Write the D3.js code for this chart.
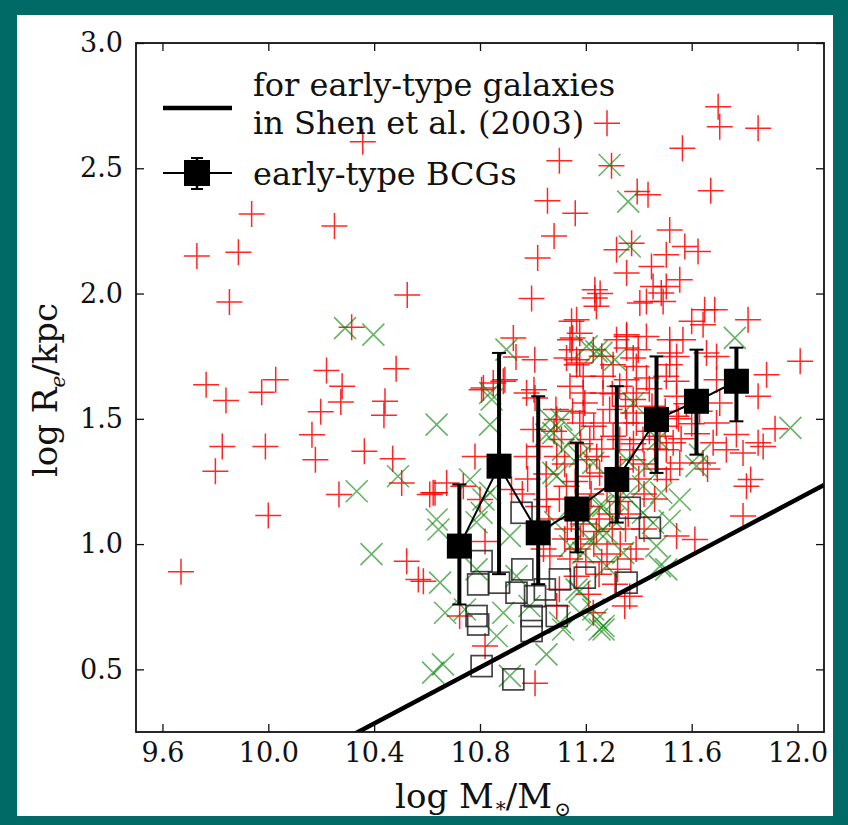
<!DOCTYPE html>
<html>
<head>
<meta charset="utf-8">
<script src="https://cdn.jsdelivr.net/npm/d3@7"></script>
<style>
  body { margin: 0; background: #fff; }
  text { font-family: "DejaVu Serif", serif; fill: #111; }
</style>
</head>
<body>
<div id="chart"></div>
<script>
// ---- data ----
var xTicks = [9.6, 10.0, 10.4, 10.8, 11.2, 11.6, 12.0];
var yTicks = [0.5, 1.0, 1.5, 2.0, 2.5, 3.0];

// red pluses
var redPts = [
  [9.67,0.89],[9.73,2.15],[9.765,1.636],[9.80,1.291],[9.826,1.39],[9.84,1.573],[9.853,1.966],[9.887,2.165],
  [9.937,2.317],[9.975,1.606],[9.989,1.39],[10.0,1.114],[10.028,1.656],[10.165,1.436],[10.178,1.337],[10.198,1.528],
  [10.22,1.693],[10.25,2.27],[10.267,1.198],[10.274,1.567],[10.279,1.63],[10.315,1.865],[10.357,2.606],[10.363,1.371],
  [10.437,1.514],[10.441,1.57],[10.47,1.341],[10.483,1.70],[10.504,1.244],[10.525,1.994],[10.61,1.198],
  [10.523,0.932],[10.567,0.859],[10.586,0.852],[10.674,1.244],[10.63,1.205],[10.781,1.35],[10.737,1.231],
  [10.819,1.01],[10.819,0.593],[10.723,0.713],[10.8,1.178],[11.008,0.445],[10.919,1.218],[11.051,1.178],
  [11.064,0.952],[11.09,0.753],[11.228,0.726],[11.165,0.872],
  [10.995,1.98],[11.018,2.142],[11.055,2.37],[11.08,2.23],[11.10,2.53],[11.16,2.32],[11.146,1.889],[10.926,1.823],
  [10.936,1.747],[11.007,1.736],[11.15,1.823],[11.146,1.776],[11.127,1.743],[11.165,1.716],[10.806,1.616],
  [10.85,1.643],[10.894,1.656],[10.976,1.603],[11.004,1.616],[11.008,1.583],[11.14,1.63],[11.087,1.537],
  [11.001,1.457],[11.026,1.39],[11.108,1.417],[10.888,1.65],[10.813,1.623],[11.196,1.563],[11.328,1.63],
  [11.379,1.577],[11.09,1.497],[11.177,1.483],[11.303,1.43],[11.354,1.483],[11.416,1.417],[10.976,1.35],
  [11.09,1.35],[11.203,1.337],[10.623,1.205],[11.127,1.231],[11.252,1.284],[11.379,1.337],[11.24,1.949],
  [11.404,1.962],[11.14,1.816],[11.165,1.736],[11.316,1.816],[11.354,1.829],[11.379,1.743],
  [11.28,2.68],[11.70,2.746],[11.706,2.666],[11.851,2.66],[11.565,2.58],[11.297,2.51],[11.394,2.407],
  [11.435,2.394],[11.672,2.41],[11.517,2.254],[11.373,2.201],[11.316,2.175],[11.574,2.188],[11.624,2.168],
  [11.504,2.155],[11.354,2.082],[11.448,2.108],[11.555,2.055],[11.504,2.028],[11.485,2.002],[11.254,2.0],
  [11.649,1.935],[11.687,1.935],[11.813,1.895],[11.234,2.015],[11.234,1.982],[11.454,2.028],[11.429,1.968],
  [11.492,1.968],[11.6,1.889],[11.643,1.875],[11.165,1.895],[11.177,1.842],[11.354,1.836],[11.429,1.829],
  [11.517,1.816],[11.567,1.816],[11.228,1.776],[11.354,1.783],[11.398,1.776],[11.517,1.763],[11.543,1.749],
  [11.656,1.763],[11.694,1.749],[11.177,1.723],[11.303,1.716],[11.391,1.709],[11.517,1.716],[11.19,1.67],
  [11.265,1.67],[11.354,1.656],[11.429,1.663],[11.504,1.67],[11.543,1.65],[11.694,1.656],[11.883,1.676],
  [11.19,1.603],[11.265,1.603],[11.391,1.603],[11.543,1.59],[11.706,1.563],[11.851,1.59],[11.19,1.523],
  [11.29,1.537],[11.379,1.523],[11.543,1.51],[11.694,1.483],[11.851,1.404],[11.265,1.483],[11.391,1.483],
  [11.769,1.437],[11.794,1.364],[11.215,1.417],[11.328,1.417],[11.53,1.404],[11.681,1.404],[11.241,1.35],
  [11.366,1.377],[11.555,1.324],[11.643,1.324],[11.215,1.271],[11.823,1.258],[11.504,1.258],
  [12.01,1.73],[11.915,1.46],[11.807,1.231],[11.794,1.112],[11.612,1.018],[11.543,1.032],[11.366,0.792],
  [11.347,0.753],[11.504,1.377],[11.731,1.377],[11.87,1.39],
  [11.10,1.18],[11.145,1.10],[11.215,1.15],[11.25,1.10],[11.30,1.06],[11.18,1.02],[11.23,1.0],[11.28,0.96],
  [11.33,1.0],[11.37,0.94],[11.14,0.94],[11.2,0.93],[11.25,0.88],[11.31,0.84],[11.1,0.82],[11.21,0.80],
  [11.42,1.06],[11.46,1.18],[11.4,1.26],[11.47,1.30],[11.52,1.30],[11.46,1.38],[11.56,1.42],[11.6,1.48],
  [11.63,1.53],[11.5,1.53],[11.66,1.30],[11.05,1.28],[11.12,1.32],[11.16,1.25],[11.22,1.2],[11.28,1.22],
  [11.33,1.17],[11.36,1.12],[11.06,1.10],[11.02,1.15],[11.26,1.38],[11.42,1.32],[11.44,1.45],[11.12,1.02],
  [11.04,0.98],[10.96,1.20],[10.98,1.26],[11.08,1.45],[11.35,1.55],[11.45,1.55],[11.58,1.56],[11.62,1.44],
  [11.48,1.43],[11.13,1.06],[11.19,1.08],[11.24,1.05],[11.29,1.12],[11.35,1.06],[11.17,0.98],[11.26,0.93],
  [11.32,0.90],[11.39,0.98],[11.42,1.20],[11.38,1.40],[11.33,1.30],[11.18,1.40],[11.23,1.47],[11.15,1.53],
  [11.50,1.47],[11.55,1.50],[11.44,1.62],[11.30,1.60],[11.26,1.75]
];

// green crosses
var greenPts = [
  [10.29,1.862],[10.397,1.836],[10.334,1.211],[10.49,1.271],[10.39,0.96],[10.636,1.477],[10.90,1.776],
  [10.844,1.577],[10.838,1.477],[10.838,1.603],[11.065,1.497],[11.108,1.497],[11.051,1.437],[11.114,1.377],
  [10.762,1.258],[11.077,1.284],[11.29,2.513],[11.36,2.367],[11.366,2.188],[11.763,1.823],[11.24,1.769],
  [11.259,1.763],[11.31,1.736],[11.203,1.789],[11.379,1.563],[11.159,1.43],[11.473,1.417],[11.631,1.357],
  [11.228,1.324],[11.354,1.337],[11.973,1.464],
  [10.643,1.058],[10.649,0.846],[10.668,0.726],[10.623,0.487],[10.66,0.52],[10.787,1.087],[10.806,1.125],
  [10.787,0.899],[10.913,1.032],[10.888,0.726],[10.863,0.633],[10.938,0.872],[10.913,0.474],[11.051,0.56],
  [11.114,0.659],[11.252,0.659],[11.084,1.087],[11.141,0.992],[11.19,0.965],[11.252,1.045],[11.303,1.098],
  [11.165,1.138],[10.987,0.753],[10.743,0.739],[10.838,1.205],[11.267,0.673],[11.228,0.739],[11.102,0.686],
  [11.177,0.812],[11.555,1.178],[11.485,1.205],[11.454,1.085],[11.517,1.092],[11.467,0.992],[11.48,0.912],
  [11.504,0.899],[11.278,0.912],[11.341,0.965],[11.278,1.045],[11.215,1.018],[11.19,1.112],[11.265,1.152],
  [11.316,1.178],[11.416,1.125],[11.241,0.699],[11.267,0.659],[11.177,0.726],[11.165,0.819],[11.618,1.311],
  [11.429,1.311],[11.077,1.443],[11.177,1.35],[11.09,1.271],[10.813,1.178],[10.636,1.098],[11.252,1.152],
  [11.354,1.191],[11.416,1.231],[11.203,1.098]
];

// open squares
var openSq = [
  [10.806,0.932],[10.793,0.839],[10.872,0.846],[10.957,1.125],[10.96,0.899],[10.938,0.806],[11.008,0.792],
  [11.045,0.819],[11.102,0.859],[11.196,0.866],[11.354,0.846],[11.366,1.145],[11.442,1.065],[10.787,0.713],
  [10.793,0.679],[10.995,0.713],[10.995,0.653],[11.09,0.713],[10.806,0.513],[10.926,0.46]
];

// early-type BCG bins
var bcgX  = [10.722, 10.872, 11.02, 11.166, 11.317, 11.467, 11.618, 11.769];
var bcgY  = [0.992, 1.311, 1.045, 1.14, 1.258, 1.497, 1.57, 1.65];
var bcgHi = [1.238, 1.763, 1.59, 1.405, 1.63, 1.749, 1.776, 1.784];
var bcgLo = [0.759, 0.88, 0.84, 0.967, 1.086, 1.284, 1.357, 1.49];

// Shen et al. (2003) early-type relation: log R = a log M + b
var shenA = 0.56;
var shenB = -5.54;

// ---- layout ----
var svgWidth = 848;
var svgHeight = 825;
var margin = { top: 43, right: 24, bottom: 93, left: 136 };
var width = svgWidth - margin.left - margin.right;
var height = svgHeight - margin.top - margin.bottom;

var svg = d3.select("#chart")
  .append("svg")
  .attr("width", svgWidth)
  .attr("height", svgHeight);

// teal frame
svg.append("rect").attr("width", svgWidth).attr("height", svgHeight).attr("fill", "#006a66");
svg.append("rect").attr("x", 17).attr("y", 15).attr("width", 816).attr("height", 801).attr("fill", "#fff");

var chartGroup = svg.append("g")
  .attr("transform", `translate(${margin.left}, ${margin.top})`);

var x = d3.scaleLinear().domain([9.5, 12.1]).range([0, width]);
var y = d3.scaleLinear().domain([0.25, 3.0]).range([height, 0]);

chartGroup.append("clipPath").attr("id", "clip")
  .append("rect").attr("width", width).attr("height", height);

var plot = chartGroup.append("g").attr("clip-path", "url(#clip)");

// red pluses
plot.selectAll(".plus")
  .data(redPts)
  .enter()
  .append("path")
  .attr("class", "plus")
  .attr("transform", d => `translate(${x(d[0])},${y(d[1])})`)
  .attr("d", "M-13,0H13M0,-13V13")
  .attr("stroke", "#ff0000")
  .attr("stroke-opacity", 0.85)
  .attr("stroke-width", 1.5)
  .attr("fill", "none");

// green crosses
plot.selectAll(".cross")
  .data(greenPts)
  .enter()
  .append("path")
  .attr("class", "cross")
  .attr("transform", d => `translate(${x(d[0])},${y(d[1])})`)
  .attr("d", "M-11,-11L11,11M-11,11L11,-11")
  .attr("stroke", "#008000")
  .attr("stroke-opacity", 0.6)
  .attr("stroke-width", 1.6)
  .attr("fill", "none");

// open squares
plot.selectAll(".osq")
  .data(openSq)
  .enter()
  .append("rect")
  .attr("class", "osq")
  .attr("x", d => x(d[0]) - 10.5)
  .attr("y", d => y(d[1]) - 10.5)
  .attr("width", 21)
  .attr("height", 21)
  .attr("fill", "none")
  .attr("stroke", "#222")
  .attr("stroke-opacity", 0.85)
  .attr("stroke-width", 1.7);

// Shen line
plot.append("line")
  .attr("x1", x(9.5)).attr("y1", y(shenA * 9.5 + shenB))
  .attr("x2", x(12.1)).attr("y2", y(shenA * 12.1 + shenB))
  .attr("stroke", "#000")
  .attr("stroke-width", 4.5);

// BCG error bars + line + squares
var bcg = bcgX.map((v, i) => ({ x: v, y: bcgY[i], hi: bcgHi[i], lo: bcgLo[i] }));

plot.append("path")
  .datum(bcg)
  .attr("d", d3.line().x(d => x(d.x)).y(d => y(d.y)))
  .attr("fill", "none")
  .attr("stroke", "#000")
  .attr("stroke-width", 2);

plot.selectAll(".ebar")
  .data(bcg)
  .enter()
  .append("line")
  .attr("class", "ebar")
  .attr("x1", d => x(d.x)).attr("x2", d => x(d.x))
  .attr("y1", d => y(d.lo)).attr("y2", d => y(d.hi))
  .attr("stroke", "#000")
  .attr("stroke-width", 4);

["hi", "lo"].forEach(function(k) {
  plot.selectAll(".cap" + k)
    .data(bcg)
    .enter()
    .append("line")
    .attr("x1", d => x(d.x) - 7).attr("x2", d => x(d.x) + 7)
    .attr("y1", d => y(d[k])).attr("y2", d => y(d[k]))
    .attr("stroke", "#000")
    .attr("stroke-width", 2);
});

plot.selectAll(".bsq")
  .data(bcg)
  .enter()
  .append("rect")
  .attr("class", "bsq")
  .attr("x", d => x(d.x) - 12.5)
  .attr("y", d => y(d.y) - 12.5)
  .attr("width", 25)
  .attr("height", 25)
  .attr("fill", "#000");

// ---- axes (ticks inside, on all four sides) ----
var tickLen = 8;
chartGroup.append("g")
  .attr("transform", `translate(0, ${height})`)
  .call(d3.axisBottom(x).tickValues(xTicks).tickSizeInner(-tickLen).tickSizeOuter(0).tickPadding(11).tickFormat(d3.format(".1f")));
chartGroup.append("g")
  .call(d3.axisTop(x).tickValues(xTicks).tickSizeInner(-tickLen).tickSizeOuter(0).tickFormat(""));
chartGroup.append("g")
  .call(d3.axisLeft(y).tickValues(yTicks).tickSizeInner(-tickLen).tickSizeOuter(0).tickPadding(13).tickFormat(d3.format(".1f")));
chartGroup.append("g")
  .attr("transform", `translate(${width}, 0)`)
  .call(d3.axisRight(y).tickValues(yTicks).tickSizeInner(-tickLen).tickSizeOuter(0).tickFormat(""));

chartGroup.selectAll(".tick line").attr("stroke", "#111").attr("stroke-width", 1.3);
chartGroup.selectAll(".domain").remove();
chartGroup.selectAll(".tick text").attr("font-size", "27px").attr("font-family", "DejaVu Serif").attr("fill", "#111");

chartGroup.append("rect")
  .attr("width", width).attr("height", height)
  .attr("fill", "none").attr("stroke", "#111").attr("stroke-width", 1.8);

// ---- legend ----
var leg = chartGroup.append("g");
leg.append("line").attr("x1", 27).attr("x2", 96).attr("y1", 65).attr("y2", 65)
  .attr("stroke", "#000").attr("stroke-width", 4.5);
leg.append("text").attr("x", 117).attr("y", 53).attr("font-size", "32px").text("for early-type galaxies");
leg.append("text").attr("x", 117).attr("y", 91).attr("font-size", "32px").text("in Shen et al. (2003)");
leg.append("line").attr("x1", 27).attr("x2", 96).attr("y1", 130).attr("y2", 130)
  .attr("stroke", "#000").attr("stroke-width", 2);
leg.append("line").attr("x1", 61).attr("x2", 61).attr("y1", 115).attr("y2", 146)
  .attr("stroke", "#000").attr("stroke-width", 2.5);
leg.append("line").attr("x1", 55).attr("x2", 67).attr("y1", 115).attr("y2", 115).attr("stroke", "#000").attr("stroke-width", 2);
leg.append("line").attr("x1", 55).attr("x2", 67).attr("y1", 146).attr("y2", 146).attr("stroke", "#000").attr("stroke-width", 2);
leg.append("rect").attr("x", 48).attr("y", 117).attr("width", 26).attr("height", 26).attr("fill", "#000");
leg.append("text").attr("x", 117).attr("y", 142).attr("font-size", "32px").text("early-type BCGs");

// ---- axis labels ----
var xl = svg.append("text")
  .attr("x", 483).attr("y", 808)
  .attr("text-anchor", "middle")
  .attr("font-size", "34px");
xl.append("tspan").text("log M");
xl.append("tspan").attr("font-size", "20px").attr("dy", 8).attr("dx", 2).text("*");
xl.append("tspan").attr("dy", -8).text("/M");
xl.append("tspan").attr("font-size", "20px").attr("dy", 8).attr("dx", 2).text("\u2299");

var yl = svg.append("text")
  .attr("transform", "translate(57, 390) rotate(-90)")
  .attr("text-anchor", "middle")
  .attr("font-size", "34px");
yl.append("tspan").text("log R");
yl.append("tspan").attr("font-size", "20px").attr("font-style", "italic").attr("dy", 8).text("e");
yl.append("tspan").attr("dy", -8).text("/kpc");
</script>
</body>
</html>
